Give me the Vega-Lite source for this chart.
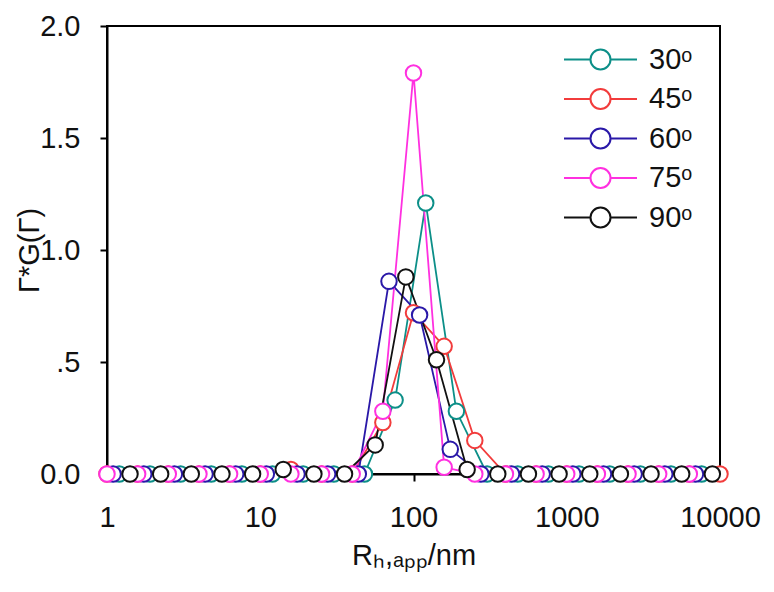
{
  "$schema": "https://vega.github.io/schema/vega-lite/v6.json",
  "autosize": "none",
  "width": 613,
  "height": 448,
  "padding": {"left": 107, "top": 26, "right": 54, "bottom": 118},
  "background": "white",
  "config": {
    "view": {"stroke": "black", "strokeWidth": 2},
    "font": "Liberation Sans",
    "axis": {
      "grid": false,
      "domainColor": "black",
      "domainWidth": 2,
      "tickColor": "black",
      "tickWidth": 2,
      "tickSize": 7,
      "labelFont": "Liberation Sans",
      "labelFontSize": 29,
      "labelColor": "#111",
      "titleFont": "Liberation Sans",
      "titleFontSize": 29,
      "titleFontWeight": "normal",
      "titleColor": "#111"
    }
  },
  "data": {
    "values": [
      {"series": "30ᵒ", "r": 1.202, "g": 0}, {"series": "30ᵒ", "r": 1.905, "g": 0}, {"series": "30ᵒ", "r": 3.020, "g": 0}, {"series": "30ᵒ", "r": 4.786, "g": 0}, {"series": "30ᵒ", "r": 7.586, "g": 0},
      {"series": "30ᵒ", "r": 12.02, "g": 0}, {"series": "30ᵒ", "r": 19.05, "g": 0}, {"series": "30ᵒ", "r": 30.20, "g": 0}, {"series": "30ᵒ", "r": 47.86, "g": 0}, {"series": "30ᵒ", "r": 75.86, "g": 0.33},
      {"series": "30ᵒ", "r": 120.2, "g": 1.21}, {"series": "30ᵒ", "r": 190.5, "g": 0.28}, {"series": "30ᵒ", "r": 302.0, "g": 0}, {"series": "30ᵒ", "r": 478.6, "g": 0}, {"series": "30ᵒ", "r": 758.6, "g": 0},
      {"series": "30ᵒ", "r": 1202, "g": 0}, {"series": "30ᵒ", "r": 1905, "g": 0}, {"series": "30ᵒ", "r": 3020, "g": 0}, {"series": "30ᵒ", "r": 4786, "g": 0}, {"series": "30ᵒ", "r": 7586, "g": 0},

      {"series": "45ᵒ", "r": 1, "g": 0}, {"series": "45ᵒ", "r": 1.585, "g": 0}, {"series": "45ᵒ", "r": 2.512, "g": 0}, {"series": "45ᵒ", "r": 3.981, "g": 0}, {"series": "45ᵒ", "r": 6.310, "g": 0},
      {"series": "45ᵒ", "r": 10, "g": 0}, {"series": "45ᵒ", "r": 15.85, "g": 0.02}, {"series": "45ᵒ", "r": 25.12, "g": 0}, {"series": "45ᵒ", "r": 39.81, "g": 0}, {"series": "45ᵒ", "r": 63.10, "g": 0.23},
      {"series": "45ᵒ", "r": 100, "g": 0.72}, {"series": "45ᵒ", "r": 158.5, "g": 0.57}, {"series": "45ᵒ", "r": 251.2, "g": 0.15}, {"series": "45ᵒ", "r": 398.1, "g": 0}, {"series": "45ᵒ", "r": 631.0, "g": 0},
      {"series": "45ᵒ", "r": 1000, "g": 0}, {"series": "45ᵒ", "r": 1585, "g": 0}, {"series": "45ᵒ", "r": 2512, "g": 0}, {"series": "45ᵒ", "r": 3981, "g": 0}, {"series": "45ᵒ", "r": 6310, "g": 0},
      {"series": "45ᵒ", "r": 10000, "g": 0},

      {"series": "60ᵒ", "r": 1.096, "g": 0}, {"series": "60ᵒ", "r": 1.738, "g": 0}, {"series": "60ᵒ", "r": 2.754, "g": 0}, {"series": "60ᵒ", "r": 4.365, "g": 0}, {"series": "60ᵒ", "r": 6.918, "g": 0},
      {"series": "60ᵒ", "r": 10.96, "g": 0}, {"series": "60ᵒ", "r": 17.38, "g": 0}, {"series": "60ᵒ", "r": 27.54, "g": 0}, {"series": "60ᵒ", "r": 43.65, "g": 0}, {"series": "60ᵒ", "r": 69.18, "g": 0.86},
      {"series": "60ᵒ", "r": 109.6, "g": 0.71}, {"series": "60ᵒ", "r": 173.8, "g": 0.11}, {"series": "60ᵒ", "r": 275.4, "g": 0}, {"series": "60ᵒ", "r": 436.5, "g": 0}, {"series": "60ᵒ", "r": 691.8, "g": 0},
      {"series": "60ᵒ", "r": 1096, "g": 0}, {"series": "60ᵒ", "r": 1738, "g": 0}, {"series": "60ᵒ", "r": 2754, "g": 0}, {"series": "60ᵒ", "r": 4365, "g": 0}, {"series": "60ᵒ", "r": 6918, "g": 0},

      {"series": "75ᵒ", "r": 1, "g": 0}, {"series": "75ᵒ", "r": 1.585, "g": 0}, {"series": "75ᵒ", "r": 2.512, "g": 0}, {"series": "75ᵒ", "r": 3.981, "g": 0}, {"series": "75ᵒ", "r": 6.310, "g": 0},
      {"series": "75ᵒ", "r": 10, "g": 0}, {"series": "75ᵒ", "r": 15.85, "g": 0}, {"series": "75ᵒ", "r": 25.12, "g": 0}, {"series": "75ᵒ", "r": 39.81, "g": 0}, {"series": "75ᵒ", "r": 63.10, "g": 0.28},
      {"series": "75ᵒ", "r": 100, "g": 1.79}, {"series": "75ᵒ", "r": 158.5, "g": 0.03}, {"series": "75ᵒ", "r": 251.2, "g": 0}, {"series": "75ᵒ", "r": 398.1, "g": 0}, {"series": "75ᵒ", "r": 631.0, "g": 0},
      {"series": "75ᵒ", "r": 1000, "g": 0}, {"series": "75ᵒ", "r": 1585, "g": 0}, {"series": "75ᵒ", "r": 2512, "g": 0}, {"series": "75ᵒ", "r": 3981, "g": 0}, {"series": "75ᵒ", "r": 6310, "g": 0},

      {"series": "90ᵒ", "r": 1.413, "g": 0}, {"series": "90ᵒ", "r": 2.239, "g": 0}, {"series": "90ᵒ", "r": 3.548, "g": 0}, {"series": "90ᵒ", "r": 5.623, "g": 0}, {"series": "90ᵒ", "r": 8.913, "g": 0},
      {"series": "90ᵒ", "r": 14.13, "g": 0.02}, {"series": "90ᵒ", "r": 22.39, "g": 0}, {"series": "90ᵒ", "r": 35.48, "g": 0}, {"series": "90ᵒ", "r": 56.23, "g": 0.13}, {"series": "90ᵒ", "r": 89.13, "g": 0.88},
      {"series": "90ᵒ", "r": 141.3, "g": 0.51}, {"series": "90ᵒ", "r": 223.9, "g": 0.02}, {"series": "90ᵒ", "r": 354.8, "g": 0}, {"series": "90ᵒ", "r": 562.3, "g": 0}, {"series": "90ᵒ", "r": 891.3, "g": 0},
      {"series": "90ᵒ", "r": 1413, "g": 0}, {"series": "90ᵒ", "r": 2239, "g": 0}, {"series": "90ᵒ", "r": 3548, "g": 0}, {"series": "90ᵒ", "r": 5623, "g": 0}, {"series": "90ᵒ", "r": 8913, "g": 0}
    ]
  },
  "encoding": {
    "x": {
      "field": "r",
      "type": "quantitative",
      "scale": {"type": "log", "domain": [1, 10000], "nice": false},
      "axis": {
        "values": [1, 10, 100, 1000, 10000],
        "labelExpr": "format(datum.value, 'd')",
        "labelPadding": 22,
        "labelFlush": false,
        "title": "Rₕ,ₐₚₚ/nm",
        "titleY": 90,
        "titleBaseline": "alphabetic"
      }
    },
    "y": {
      "field": "g",
      "type": "quantitative",
      "scale": {"domain": [0, 2], "nice": false},
      "axis": {
        "values": [0, 0.5, 1, 1.5, 2],
        "labelExpr": "datum.value == 0 ? '0.0' : datum.value == 0.5 ? '.5' : format(datum.value, '.1f')",
        "labelPadding": 20,
        "labelFlush": false,
        "title": "Γ*G(Γ)",
        "titleX": -78,
        "titleY": 224,
        "titleAngle": -90,
        "titleAlign": "center",
        "titleBaseline": "middle"
      }
    },
    "stroke": {
      "field": "series",
      "type": "nominal",
      "scale": {
        "domain": ["30ᵒ", "45ᵒ", "60ᵒ", "75ᵒ", "90ᵒ"],
        "range": ["#0c8f88", "#f23c3c", "#2a18a8", "#ff30e0", "#111111"]
      },
      "legend": {
        "title": null,
        "orient": "none",
        "legendX": 479,
        "legendY": 19,
        "padding": 0,
        "symbolType": "M-3.65,0L-1,0M1,0L3.65,0M1,0A1,1,0,1,1,-1,0A1,1,0,1,1,1,0Z",
        "symbolSize": 400,
        "symbolStrokeWidth": 2,
        "symbolFillColor": "white",
        "symbolOpacity": 1,
        "labelFont": "Liberation Sans",
        "labelFontSize": 29,
        "labelColor": "#111",
        "labelOffset": 34,
        "rowPadding": 9.5
      }
    }
  },
  "layer": [
    {
      "mark": {"type": "line", "strokeWidth": 1.8, "clip": false}
    },
    {
      "mark": {"type": "point", "filled": false, "fill": "white", "fillOpacity": 1, "opacity": 1, "size": 240, "strokeWidth": 2, "clip": false}
    }
  ]
}
